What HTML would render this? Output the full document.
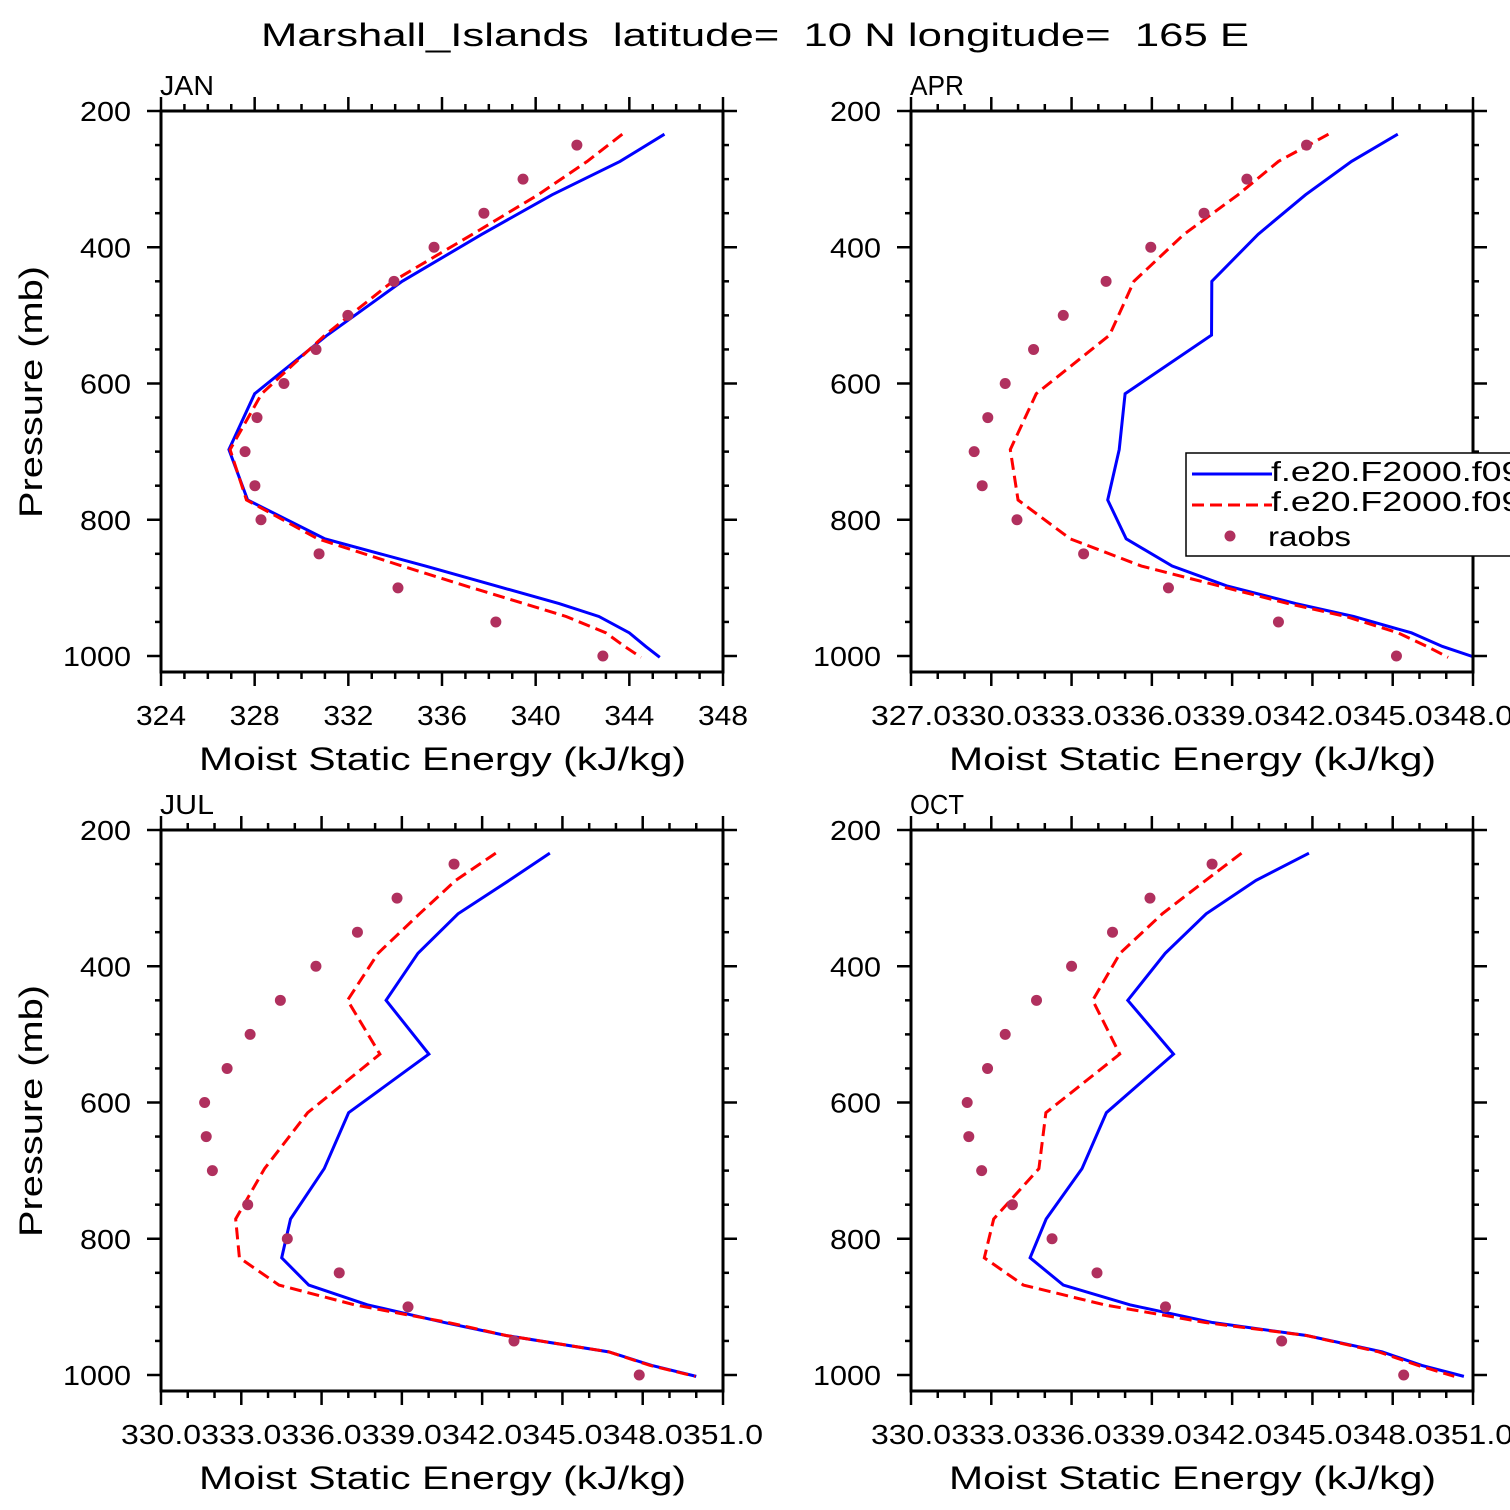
<!DOCTYPE html>
<html><head><meta charset="utf-8">
<style>
html,body{margin:0;padding:0;background:#fff;}
svg{display:block;}
text{font-family:"Liberation Sans",sans-serif;fill:#000;}
</style></head>
<body>
<svg id="chart" width="1510" height="1510" viewBox="0 0 1510 1510" xmlns="http://www.w3.org/2000/svg">
<text x="261" y="46" font-size="32" textLength="988" lengthAdjust="spacingAndGlyphs" style="white-space:pre">Marshall_Islands  latitude=  10 N longitude=  165 E</text>
</svg>
<script>
// shared data
const levels = [234,274,323,381,450,529,615,697,771,828,868,897,923,942,966,986,1002];
const raobLevels = [250,300,350,400,450,500,550,600,650,700,750,800,850,900,950,1000];
const pTicks = [200,400,600,800,1000];

const janBlue = [345.5,343.6,340.7,337.7,334.3,331.1,328.0,326.9,327.7,331.0,335.3,338.3,341.0,342.7,344.0,344.7,345.3];
const janRed = [343.7,342.2,340.1,337.3,333.9,331.0,328.3,326.95,327.65,330.7,334.3,337.0,339.5,341.3,343.0,343.8,344.5];
const janRaobs = [341.76,339.46,337.79,335.66,333.95,331.98,330.62,329.25,328.10,327.59,328.01,328.27,330.75,334.12,338.30,342.87];

const aprBlue = [345.19,343.46,341.74,339.97,338.24,338.23,335.0,334.78,334.35,335.04,336.76,338.79,341.38,343.54,345.70,346.86,348.08];
const aprRed = [342.6,340.73,339.22,337.2,335.33,334.42,331.68,330.71,331.0,332.95,335.61,338.5,341.09,343.25,345.2,346.28,347.07];
const aprRaobs = [341.78,339.55,337.95,335.96,334.29,332.69,331.58,330.52,329.87,329.36,329.66,330.96,333.45,336.62,340.73,345.14];

const julBlue = [344.53,343.01,341.10,339.60,338.41,340.01,337.01,336.10,334.84,334.51,335.52,337.71,340.60,342.89,346.73,348.34,350.00];
const julRed = [342.51,341.01,339.66,338.11,336.97,338.18,335.48,333.87,332.79,332.93,334.41,337.23,340.74,342.89,346.73,348.28,349.96];
const julRaobs = [340.95,338.82,337.34,335.79,334.46,333.33,332.47,331.63,331.69,331.92,333.24,334.72,336.66,339.23,343.19,347.87];

const octBlue = [344.87,342.89,341.03,339.50,338.10,339.81,337.30,336.39,335.05,334.45,335.69,338.18,341.27,344.78,347.60,349.09,350.66];
const octRed = [342.35,341.01,339.39,337.81,336.79,337.80,335.04,334.78,333.09,332.74,334.20,337.23,341.00,344.78,347.47,348.95,350.30];
const octRaobs = [341.25,338.93,337.53,336.00,334.69,333.52,332.86,332.10,332.16,332.64,333.79,335.27,336.95,339.51,343.85,348.41];

const janTicks = [324,328,332,336,340,344,348];
const aprTicks = [327,330,333,336,339,342,345,348];
const julTicks = [330,333,336,339,342,345,348,351];
const octTicks = [330,333,336,339,342,345,348,351];

const NS = "http://www.w3.org/2000/svg";
const svg = document.getElementById('chart');
function mk(tag, attrs, parent){
  const e = document.createElementNS(NS, tag);
  for (const k in attrs) e.setAttribute(k, attrs[k]);
  (parent||svg).appendChild(e);
  return e;
}

function panel(cfg){
  const L = cfg.left, R = cfg.left + 562, T = cfg.top, B = cfg.top + 561;
  const xs = v => L + (v - cfg.xmin) / (cfg.xmax - cfg.xmin) * (R - L);
  const ys = p => T + (p - 200) * 0.68125;
  const g = mk('g', {});
  
  

  const tg = mk('g', {stroke:'#000','stroke-width':2.5}, g);
  
  
  for (let p = 200; p <= 1000; p += 50) {
    const major = p % 200 === 0;
    const len = major ? 14 : 6;
    const y = ys(p);
    mk('line', {x1:L-len, y1:y, x2:L, y2:y}, tg);
    mk('line', {x1:R, y1:y, x2:R+len, y2:y}, tg);
  }
  for (let v = cfg.xmin; v <= cfg.xmax + 1e-6; v += cfg.minor) {
    const major = Math.abs(((v - cfg.xmin) / cfg.major) - Math.round((v - cfg.xmin) / cfg.major)) < 1e-6;
    const len = major ? 14 : 7;
    const x = xs(v);
    mk('line', {x1:x, y1:T-len, x2:x, y2:T}, tg);
    mk('line', {x1:x, y1:B, x2:x, y2:B+len}, tg);
  }

  pTicks.forEach(p => {
    const s = String(p);
    const w = s.length * 17;
    const t = mk('text', {x:L-30-w, y:ys(p)+10, 'font-size':28, textLength:w, lengthAdjust:'spacingAndGlyphs'}, g);
    
    
    t.textContent = s;
  });
  cfg.ticks.forEach(v => {
    const s = cfg.dec ? v.toFixed(1) : String(v);
    const w = cfg.dec ? 80 : 50;
    const t = mk('text', {x:xs(v)-w/2, y:B+53, 'font-size':28, textLength:w, lengthAdjust:'spacingAndGlyphs'}, g);
    
    
    t.textContent = s;
  });

  const clipId = 'clip-' + cfg.name;
  const cp = mk('clipPath', {id: clipId}, g);
  mk('rect', {x:L, y:T, width:R-L, height:B-T}, cp);
  const blue = mk('polyline', {points: levels.map((p,i)=>xs(cfg.blue[i])+','+ys(p)).join(' '),
    fill:'none', stroke:'#0000ff', 'stroke-width':3, 'clip-path':'url(#'+clipId+')'}, g);
  
  
  const red = mk('polyline', {points: levels.map((p,i)=>xs(cfg.red[i])+','+ys(p)).join(' '),
    fill:'none', stroke:'#ff0000', 'stroke-width':3, 'stroke-dasharray':'12 6', 'clip-path':'url(#'+clipId+')'}, g);
  
  
  raobLevels.forEach((p,i) => {
    const c = mk('circle', {cx:xs(cfg.raobs[i]), cy:ys(p), r:5.5, fill:'#b0305e'}, g);
    
    
  });

  const fr = mk('rect', {x:L, y:T, width:R-L, height:B-T, fill:'none', stroke:'#000', 'stroke-width':3}, g);
  
  

  const pl = mk('text', {x:L-1, y:T-16, 'font-size':28, textLength:cfg.label.length*18, lengthAdjust:'spacingAndGlyphs'}, g);
  
  
  pl.textContent = cfg.label;

  const xt = mk('text', {x:L + 38, y:B+98, 'font-size':32, textLength:487, lengthAdjust:'spacingAndGlyphs'}, g);
  
  
  xt.textContent = 'Moist Static Energy (kJ/kg)';

  if (cfg.left < 500) {
    const yt = mk('text', {x:0, y:0, 'font-size':32, textLength:252, lengthAdjust:'spacingAndGlyphs',
      transform:'translate(42,' + (T + 407) + ') rotate(-90)'}, g);
    
    
    yt.textContent = 'Pressure (mb)';
  }
}

panel({name:'jan', label:'JAN', left:161, top:111, xmin:324, xmax:348, major:4, minor:1, ticks:janTicks, dec:false, blue:janBlue, red:janRed, raobs:janRaobs});
panel({name:'apr', label:'APR', left:911, top:111, xmin:327, xmax:348, major:3, minor:1, ticks:aprTicks, dec:true, blue:aprBlue, red:aprRed, raobs:aprRaobs});
panel({name:'jul', label:'JUL', left:161, top:830, xmin:330, xmax:351, major:3, minor:1, ticks:julTicks, dec:true, blue:julBlue, red:julRed, raobs:julRaobs});
panel({name:'oct', label:'OCT', left:911, top:830, xmin:330, xmax:351, major:3, minor:1, ticks:octTicks, dec:true, blue:octBlue, red:octRed, raobs:octRaobs});

const lg = mk('g', {});


const lbox = mk('rect', {x:1186, y:453, width:340, height:103, fill:'#fff', stroke:'#000', 'stroke-width':1.5}, lg);


const l1 = mk('line', {x1:1192, y1:474, x2:1272, y2:474, stroke:'#0000ff', 'stroke-width':3}, lg);


const t1 = mk('text', {x:1271, y:481, 'font-size':28, textLength:320, lengthAdjust:'spacingAndGlyphs'}, lg);


t1.textContent = 'f.e20.F2000.f09_f09';
const l2 = mk('line', {x1:1192, y1:505, x2:1272, y2:505, stroke:'#ff0000', 'stroke-width':3, 'stroke-dasharray':'12 6'}, lg);


const t2 = mk('text', {x:1271, y:511, 'font-size':28, textLength:320, lengthAdjust:'spacingAndGlyphs'}, lg);


t2.textContent = 'f.e20.F2000.f09_f09';
const c3 = mk('circle', {cx:1230, cy:536, r:5.5, fill:'#b0305e'}, lg);


const t3 = mk('text', {x:1268, y:546, 'font-size':28, textLength:83, lengthAdjust:'spacingAndGlyphs'}, lg);


t3.textContent = 'raobs';
</script>
</body></html>
